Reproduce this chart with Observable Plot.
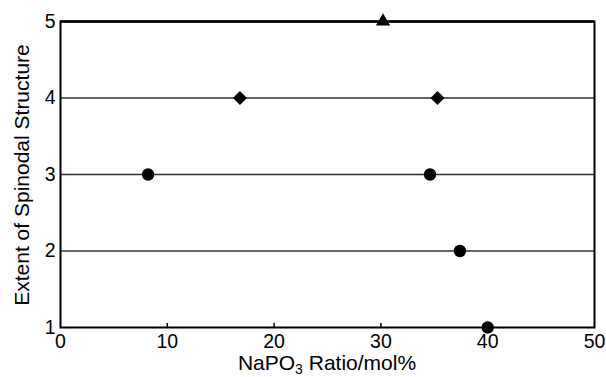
<!DOCTYPE html>
<html>
<head>
<meta charset="utf-8">
<script src="https://cdn.jsdelivr.net/npm/d3@7"></script>
<script src="https://cdn.jsdelivr.net/npm/@observablehq/plot@0.6"></script>
<style>
  body { margin: 0; background: white; }
  #chart svg { display: block; }
  #chart svg text { font-size: 19.5px; }
</style>
</head>
<body>
<div id="chart"></div>
<script>
// NaPO3 ratio (mol%) for each observation
const xValues = [30.2, 16.8, 35.3, 8.2, 34.6, 37.4, 40.0];
// Extent of spinodal structure
const yValues = [5, 4, 4, 3, 3, 2, 1];
// Marker shape of each observation
const shapes = ["triangle", "diamond2", "diamond2", "circle", "circle", "circle", "circle"];
// Axis tick values
const xTicks = [0, 10, 20, 30, 40, 50];
const xInnerTicks = [10, 20, 30, 40];
const yTicks = [1, 2, 3, 4, 5];
const yGridLines = [2, 3, 4];
const yTopLine = [5];

const points = xValues.map((x, i) => ({x, y: yValues[i], shape: shapes[i]}));

const fontFamily = "'Liberation Sans', Arial, Helvetica, sans-serif";

const chart = Plot.plot({
  width: 606,
  height: 377,
  marginLeft: 60,
  marginRight: 12,
  marginTop: 21,
  marginBottom: 50,
  style: {fontFamily, background: "white", color: "black"},
  x: {domain: [0, 50]},
  y: {domain: [1, 5]},
  marks: [
    Plot.ruleY(yGridLines, {stroke: "#333", strokeWidth: 1.6}),
    Plot.ruleY(yTopLine, {stroke: "black", strokeWidth: 2.5}),
    Plot.frame({stroke: "black", strokeWidth: 2}),
    Plot.axisX({ticks: xInnerTicks, tickSize: -4, strokeWidth: 1.5, tickFormat: () => "", label: null}),
    Plot.axisX({ticks: xTicks, tickSize: 0, tickPadding: 7, tickFormat: "d", label: null}),
    Plot.axisY({ticks: yTicks, tickSize: 0, tickPadding: 5, tickFormat: "d", label: null}),
    Plot.dot(points, {filter: d => d.shape === "triangle", x: "x", y: "y", symbol: "shape", r: 5.3, fill: "black", stroke: "none"}),
    Plot.dot(points, {filter: d => d.shape === "diamond2", x: "x", y: "y", symbol: "shape", r: 6.3, fill: "black", stroke: "none"}),
    Plot.dot(points, {filter: d => d.shape === "circle", x: "x", y: "y", symbol: "shape", r: 6.2, fill: "black", stroke: "none"})
  ]
});

document.getElementById("chart").appendChild(chart);

const svg = d3.select(chart);
// y-axis title
svg.append("text")
  .attr("transform", "translate(22,175) rotate(-90)")
  .attr("text-anchor", "middle")
  .attr("dy", "0.35em")
  .style("font-family", fontFamily)
  .style("font-size", "21px")
  .attr("fill", "black")
  .text("Extent of Spinodal Structure");
// x-axis title with a real subscript
const t = svg.append("text")
  .attr("x", 327)
  .attr("y", 370)
  .attr("text-anchor", "middle")
  .style("font-family", fontFamily)
  .style("font-size", "21px")
  .attr("fill", "black");
t.append("tspan").text("NaPO");
t.append("tspan").style("font-size", "14px").attr("dy", 4).text("3");
t.append("tspan").attr("dy", -4).text(" Ratio/mol%");
</script>
</body>
</html>
